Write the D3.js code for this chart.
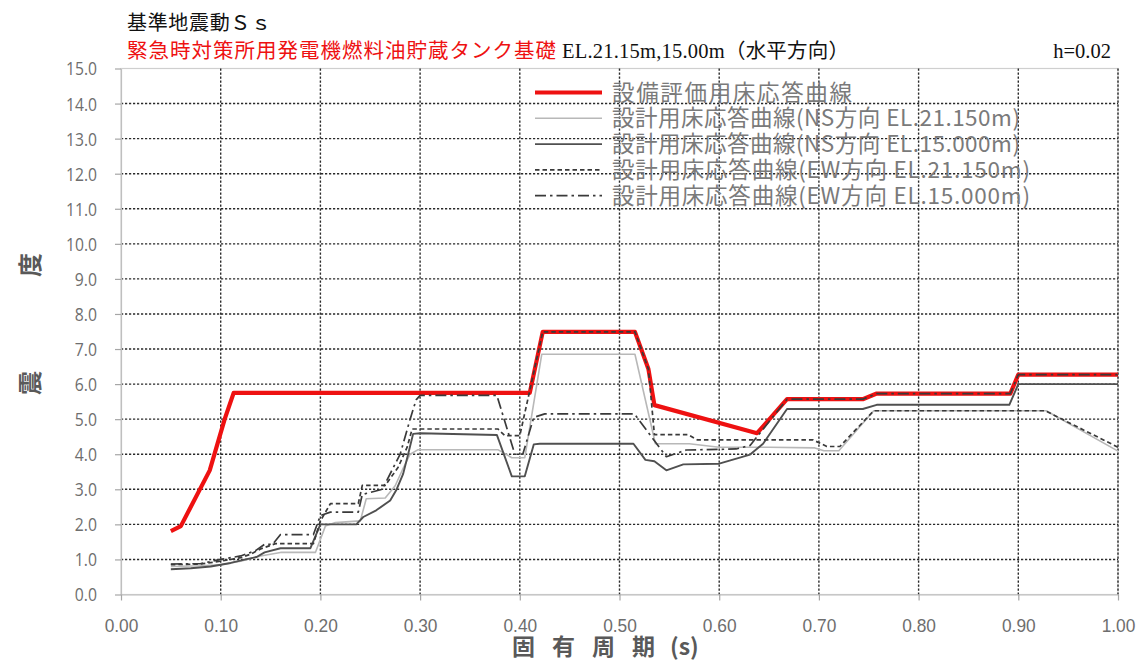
<!DOCTYPE html>
<html><head><meta charset="utf-8">
<script src="https://cdn.jsdelivr.net/npm/d3@7"></script>
<style>body{margin:0;background:#fff;} svg{display:block;}</style>
</head><body>
<svg id="c" width="1142" height="664"></svg>
<script>
// ---- data ----
const xTicks = [0.0, 0.1, 0.2, 0.3, 0.4, 0.5, 0.6, 0.7, 0.8, 0.9, 1.0];
const yTicks = [0, 1, 2, 3, 4, 5, 6, 7, 8, 9, 10, 11, 12, 13, 14, 15];

const legendLabels = [
  "設備評価用床応答曲線",
  "設計用床応答曲線(NS方向 EL.21.150m)",
  "設計用床応答曲線(NS方向 EL.15.000m)",
  "設計用床応答曲線(EW方向 EL.21.150m)",
  "設計用床応答曲線(EW方向 EL.15.000m)"
];

// 設備評価用床応答曲線
const redT = [0.050, 0.060, 0.089, 0.104, 0.113, 0.410, 0.423, 0.5155, 0.529, 0.535, 0.638, 0.668, 0.744, 0.758, 0.892, 0.900, 1.000];
const redV = [1.81, 1.95, 3.54, 5.00, 5.75, 5.75, 7.49, 7.49, 6.43, 5.40, 4.60, 5.57, 5.57, 5.73, 5.73, 6.27, 6.27];

// NS EL.21.150m
const ns21T = [0.050, 0.080, 0.100, 0.120, 0.140, 0.160, 0.195, 0.205, 0.215, 0.240, 0.246, 0.265, 0.275, 0.283, 0.290, 0.298, 0.378, 0.392, 0.405, 0.422, 0.5155, 0.536, 0.570, 0.600, 0.650, 0.696, 0.705, 0.720, 0.755, 0.928, 1.000];
const ns21V = [0.80, 0.82, 0.85, 0.95, 1.10, 1.20, 1.20, 1.95, 2.05, 2.10, 2.73, 2.75, 3.10, 3.60, 4.00, 4.13, 4.13, 3.90, 3.90, 6.85, 6.85, 4.30, 4.30, 4.20, 4.20, 4.18, 4.10, 4.10, 5.24, 5.24, 4.09];

// NS EL.15.000m
const ns15T = [0.050, 0.070, 0.090, 0.100, 0.110, 0.125, 0.136, 0.144, 0.160, 0.190, 0.200, 0.236, 0.243, 0.256, 0.270, 0.276, 0.283, 0.288, 0.293, 0.300, 0.377, 0.392, 0.405, 0.414, 0.420, 0.514, 0.526, 0.535, 0.547, 0.564, 0.600, 0.631, 0.644, 0.668, 0.744, 0.758, 0.891, 0.900, 1.000];
const ns15V = [0.72, 0.75, 0.80, 0.85, 0.90, 1.00, 1.07, 1.20, 1.32, 1.32, 2.00, 2.00, 2.21, 2.40, 2.68, 2.97, 3.44, 4.00, 4.58, 4.60, 4.55, 3.37, 3.37, 4.28, 4.30, 4.30, 3.84, 3.80, 3.54, 3.71, 3.73, 3.99, 4.30, 5.29, 5.29, 5.41, 5.41, 6.00, 6.00];

// EW EL.21.150m
const ew21T = [0.050, 0.080, 0.100, 0.120, 0.130, 0.140, 0.155, 0.193, 0.200, 0.210, 0.238, 0.242, 0.265, 0.278, 0.287, 0.292, 0.378, 0.385, 0.400, 0.423, 0.5155, 0.529, 0.535, 0.569, 0.578, 0.694, 0.708, 0.721, 0.755, 0.927, 1.000];
const ew21V = [0.85, 0.87, 0.95, 1.05, 1.15, 1.30, 1.45, 1.45, 2.10, 2.59, 2.59, 3.11, 3.11, 3.63, 4.20, 4.72, 4.72, 4.53, 4.53, 7.49, 7.49, 6.43, 4.56, 4.56, 4.41, 4.41, 4.22, 4.22, 5.24, 5.24, 4.20];

// EW EL.15.000m
const ew15T = [0.050, 0.080, 0.100, 0.120, 0.135, 0.144, 0.152, 0.160, 0.193, 0.200, 0.210, 0.238, 0.242, 0.262, 0.280, 0.290, 0.296, 0.300, 0.377, 0.395, 0.403, 0.414, 0.425, 0.515, 0.547, 0.567, 0.617, 0.631, 0.668, 0.744, 0.758, 0.892, 0.900, 1.000];
const ew15V = [0.87, 0.88, 1.00, 1.10, 1.25, 1.43, 1.43, 1.71, 1.71, 2.25, 2.35, 2.35, 2.85, 3.00, 4.00, 5.00, 5.55, 5.68, 5.68, 4.00, 4.00, 5.05, 5.15, 5.15, 3.93, 4.12, 4.15, 4.25, 5.57, 5.57, 5.73, 5.73, 6.27, 6.27];

// ---- drawing ----
const svg = d3.select('#c');
const L = 121, R = 1118, T = 68.5, B = 594.5;
const x = d3.scaleLinear().domain([0, 1]).range([L, R]);
const y = d3.scaleLinear().domain([0, 15]).range([B, T]);
const gray = '#6e6e6e';
const numWidth = (s, fs) => s.split('').reduce((a, c) => a + (c === '.' ? 0.252 : 0.507) * fs, 0);

// titles
const titleFont = '"Liberation Serif", "Noto Sans CJK JP", serif';
svg.append('text').attr('x', 127).attr('y', 30).attr('font-family', titleFont).attr('font-size', 20)
  .attr('fill', '#111').attr('textLength', 144).text('基準地震動Ｓｓ');
svg.append('text').attr('x', 127).attr('y', 58).attr('font-family', titleFont).attr('font-size', 20.5)
  .attr('fill', '#ee1111').attr('textLength', 429).text('緊急時対策所用発電機燃料油貯蔵タンク基礎');
svg.append('text').attr('x', 562).attr('y', 58).attr('font-family', titleFont).attr('font-size', 20.5)
  .attr('fill', '#111').attr('textLength', 287).text('EL.21.15m,15.00m（水平方向）');
svg.append('text').attr('x', 1111).attr('y', 58).attr('text-anchor', 'end').attr('font-family', titleFont).attr('font-size', 20.5)
  .attr('fill', '#111').text('h=0.02');

// plot border
svg.append('rect').attr('x', L).attr('y', T).attr('width', R - L).attr('height', B - T)
  .attr('fill', 'none').attr('stroke', '#cfcfcf').attr('stroke-width', 1.2);

// grid
const grid = svg.append('g').attr('stroke', '#2a2a2a').attr('stroke-width', 1.4).attr('stroke-dasharray', '2.2,1.8');
yTicks.filter(v => v > 0 && v < 15).forEach(v => {
  grid.append('line').attr('x1', L).attr('x2', R).attr('y1', y(v)).attr('y2', y(v));
});
xTicks.filter(v => v > 0).forEach(v => {
  grid.append('line').attr('x1', x(v)).attr('x2', x(v)).attr('y1', T).attr('y2', B);
});

// axes
const gy = svg.append('g').attr('transform', `translate(${L},0)`)
  .call(d3.axisLeft(y).tickValues(yTicks).tickSize(6).tickSizeOuter(0).tickFormat(d3.format('.1f')));
gy.select('.domain').attr('stroke', '#bfbfbf').attr('stroke-width', 1.2);
gy.selectAll('.tick line').attr('stroke', '#a6a6a6').attr('stroke-width', 1.2);
gy.selectAll('.tick text').attr('x', -24).attr('dy', '0.36em').attr('fill', gray)
  .attr('font-family', '"Open Sans", "Noto Sans", sans-serif').attr('font-size', 18)
  .attr('textLength', function () { return numWidth(this.textContent, 17.5); })
  .attr('lengthAdjust', 'spacingAndGlyphs');

const gx = svg.append('g').attr('transform', `translate(0,${B})`)
  .call(d3.axisBottom(x).tickValues(xTicks).tickSize(6).tickSizeOuter(0).tickFormat(d3.format('.2f')));
gx.select('.domain').attr('stroke', '#bfbfbf').attr('stroke-width', 1.2);
gx.selectAll('.tick line').attr('stroke', '#a6a6a6').attr('stroke-width', 1.2);
gx.selectAll('.tick text').attr('y', 37).attr('dy', 0).attr('fill', gray)
  .attr('font-family', '"Liberation Sans", "Noto Sans", sans-serif').attr('font-size', 19)
  .attr('textLength', function () { return numWidth(this.textContent, 19); })
  .attr('lengthAdjust', 'spacingAndGlyphs');

// axis titles
svg.append('text').attr('x', 512).attr('y', 655)
  .attr('font-family', '"Noto Sans CJK JP", sans-serif').attr('font-weight', 700).attr('font-size', 23)
  .attr('letter-spacing', 17).attr('fill', '#595959').text('固有周期');
svg.append('text').attr('x', 670).attr('y', 655)
  .attr('font-family', '"Noto Sans CJK JP", sans-serif').attr('font-weight', 700).attr('font-size', 23)
  .attr('fill', '#595959').text('(s)');
[['度', 265], ['震', 383]].forEach(([ch, cy]) => {
  svg.append('text').attr('transform', `translate(30,${cy}) rotate(-90)`).attr('text-anchor', 'middle')
    .attr('dy', '0.36em').attr('font-family', '"Noto Sans CJK JP", sans-serif').attr('font-weight', 700)
    .attr('font-size', 24).attr('fill', '#595959').text(ch);
});

// series
const series = [
  { t: redT, v: redV, stroke: '#ee1111', width: 4.2, dash: null },
  { t: ns21T, v: ns21V, stroke: '#b8b8b8', width: 1.6, dash: null },
  { t: ns15T, v: ns15V, stroke: '#505050', width: 1.9, dash: null },
  { t: ew21T, v: ew21V, stroke: '#3a3a3a', width: 1.7, dash: '4.5,3' },
  { t: ew15T, v: ew15V, stroke: '#3a3a3a', width: 1.7, dash: '11,4,2.5,4' }
];
const line = d3.line().x(d => x(d[0])).y(d => y(d[1]));
series.forEach(s => {
  const pts = s.t.map((t, i) => [t, s.v[i]]);
  svg.append('path').datum(pts).attr('d', line).attr('fill', 'none')
    .attr('stroke', s.stroke).attr('stroke-width', s.width)
    .attr('stroke-linejoin', 'round').attr('stroke-dasharray', s.dash);
});

// legend
const lg = svg.append('g');
const lens = [240, 408, 408, 418, 418];
legendLabels.forEach((lab, i) => {
  const s = series[i];
  const yy = 92.5 + i * 25.8;
  lg.append('line').attr('x1', 535).attr('x2', 602).attr('y1', yy).attr('y2', yy)
    .attr('stroke', s.stroke).attr('stroke-width', s.width).attr('stroke-dasharray', s.dash);
  lg.append('text').attr('x', 612).attr('y', yy).attr('dy', '0.36em')
    .attr('font-family', '"Noto Sans CJK JP", sans-serif').attr('font-size', 22.5)
    .attr('fill', '#7a7a7a').attr('textLength', lens[i]).text(lab);
});
</script>
</body></html>
